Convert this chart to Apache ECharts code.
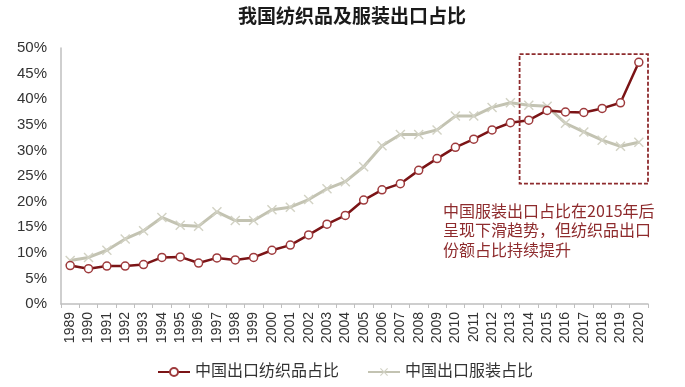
<!DOCTYPE html>
<html>
<head>
<meta charset="utf-8">
<script src="https://cdn.jsdelivr.net/npm/echarts@6/dist/echarts.min.js"></script>
<style>html,body{margin:0;padding:0;background:#fff;}#c{width:685px;height:387px;}</style>
</head>
<body>
<div id="c"></div>
<script>
var years = ['1989','1990','1991','1992','1993','1994','1995','1996','1997','1998','1999','2000','2001','2002','2003','2004','2005','2006','2007','2008','2009','2010','2011','2012','2013','2014','2015','2016','2017','2018','2019','2020'];
var textile = [7.5,6.9,7.4,7.4,7.7,9.1,9.2,8.0,9.0,8.6,9.1,10.5,11.5,13.5,15.6,17.3,20.3,22.3,23.5,26.1,28.4,30.6,32.2,34.0,35.4,35.9,37.8,37.5,37.4,38.2,39.3,47.2];
var apparel = [8.5,9.1,10.5,12.7,14.3,16.9,15.4,15.2,18.0,16.3,16.3,18.4,18.9,20.4,22.5,23.9,26.8,30.9,33.1,33.1,34.0,36.7,36.7,38.4,39.3,38.8,38.6,35.3,33.6,32.0,30.8,31.6];
var yTicks = [0,5,10,15,20,25,30,35,40,45,50];
var boxRange = {from:'2014', to:'2020', low:23.5, high:48.8};
var note = '中国服装出口占比在2015年后\n呈现下滑趋势，但纺织品出口\n份额占比持续提升';

var chart = echarts.init(document.getElementById('c'));
var cjk = '"Liberation Sans", "Noto Sans CJK SC", sans-serif';
var xShape = 'path://M0,1 L1,0 L5,4 L9,0 L10,1 L6,5 L10,9 L9,10 L5,6 L1,10 L0,9 L4,5 Z';
chart.setOption({
  animation:false,
  title:{text:'我国纺织品及服装出口占比', left:233, top:3,
    textStyle:{fontFamily:cjk, fontSize:19, fontWeight:'bold', color:'#1a1a1a'}},
  grid:{left:61, right:37, top:48, bottom:83},
  legend:{left:152, top:359, itemGap:28, itemWidth:32, itemHeight:10,
    textStyle:{fontFamily:cjk, fontSize:16, color:'#333'},
    data:['中国出口纺织品占比','中国出口服装占比']},
  xAxis:{type:'category', data:years, boundaryGap:true,
    axisLine:{lineStyle:{color:'#BFBFBF', width:1.5}},
    axisTick:{show:true, length:4, interval:0, lineStyle:{color:'#BFBFBF'}},
    axisLabel:{rotate:90, interval:0, margin:8, fontFamily:'"Liberation Sans", Arial, sans-serif', fontSize:14, color:'#333'}},
  yAxis:{type:'value', min:yTicks[0], max:yTicks[yTicks.length-1], interval:5,
    axisLine:{show:true, lineStyle:{color:'#BFBFBF', width:1.5}},
    axisTick:{show:false}, splitLine:{show:false},
    axisLabel:{formatter:function(v){return v+'%';}, margin:14, fontFamily:'"Liberation Sans", Arial, sans-serif', fontSize:15, color:'#333'}},
  series:[
    {name:'中国出口服装占比', type:'line', data:apparel, z:2,
     symbol:xShape, symbolSize:10,
     lineStyle:{color:'#C3C3B2', width:3},
     itemStyle:{color:'#D2D2C4'}},
    {name:'中国出口纺织品占比', type:'line', data:textile, z:3,
     symbol:'circle', symbolSize:8,
     lineStyle:{color:'#7B1416', width:2.5},
     itemStyle:{color:'#fff', borderColor:'#9E3A3C', borderWidth:1.5}}
  ]
});
function drawBox(){
  var x0 = chart.convertToPixel({xAxisIndex:0}, boxRange.from);
  var x1 = chart.convertToPixel({xAxisIndex:0}, boxRange.to);
  var step = chart.convertToPixel({xAxisIndex:0}, years[1]) - chart.convertToPixel({xAxisIndex:0}, years[0]);
  var yTop = chart.convertToPixel({yAxisIndex:0}, boxRange.high);
  var yBot = chart.convertToPixel({yAxisIndex:0}, boxRange.low);
  chart.setOption({graphic:[
    {type:'rect', shape:{x:x0-step/2, y:yTop, width:(x1-x0)+step, height:yBot-yTop},
     style:{fill:'none', stroke:'#8E2B2D', lineWidth:1.8, lineDash:[4,2]}, z:10},
    {type:'text', left:443, top:201, z:10,
     style:{text:note, fill:'#8E2B2D', font:'16px "Noto Sans CJK SC", sans-serif', lineHeight:19.5}}
  ]});
}
drawBox();
</script>
</body>
</html>
